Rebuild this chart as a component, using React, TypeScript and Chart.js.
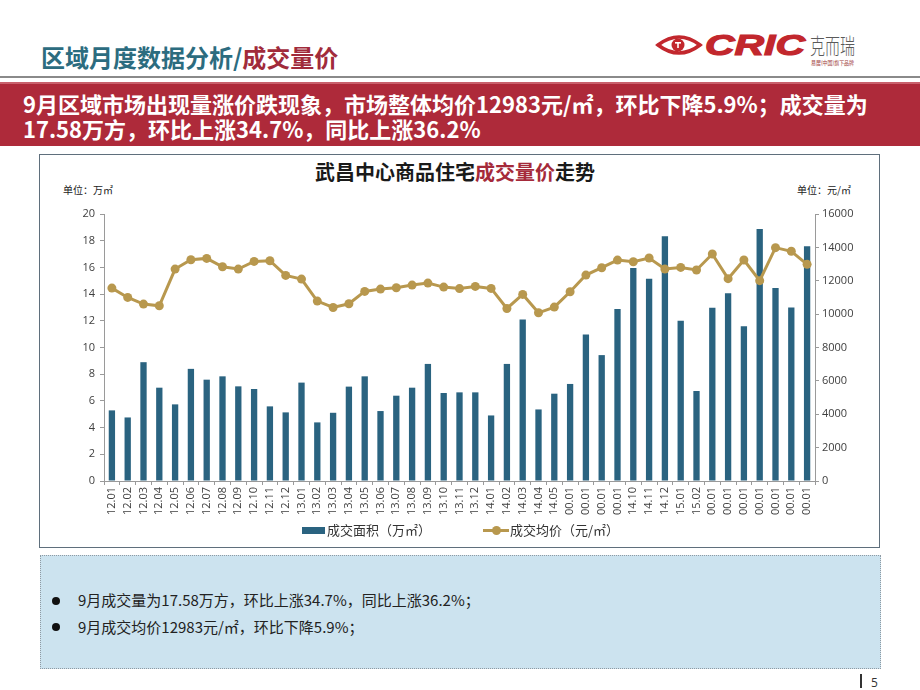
import React, { useEffect, useRef } from 'react';
import { Chart, registerables } from 'chart.js';

Chart.register(...registerables);

// ---------- data ----------
const categories = [
  '12.01', '12.02', '12.03', '12.04', '12.05', '12.06', '12.07', '12.08', '12.09', '12.10', '12.11', '12.12',
  '13.01', '13.02', '13.03', '13.04', '13.05', '13.06', '13.07', '13.08', '13.09', '13.10', '13.11', '13.12',
  '14.01', '14.02', '14.03', '14.04', '14.05', '00.01', '00.01', '00.01', '00.01',
  '14.10', '14.11', '14.12', '15.01', '15.02',
  '00.01', '00.01', '00.01', '00.01', '00.01', '00.01', '00.01',
];

// 成交面积（万㎡）
const areaValues = [
  5.29, 4.76, 8.9, 6.99, 5.74, 8.4, 7.59, 7.84, 7.09, 6.89, 5.59, 5.14,
  7.37, 4.39, 5.11, 7.07, 7.84, 5.24, 6.39, 6.99, 8.77, 6.59, 6.64, 6.64,
  4.91, 8.77, 12.1, 5.36, 6.54, 7.27, 10.98, 9.43, 12.88,
  15.95, 15.15, 18.33, 12.0, 6.74,
  12.98, 14.06, 11.59, 18.88, 14.46, 13.0, 17.58,
];

// 成交均价（元/㎡）
const priceValues = [
  11560, 11000, 10600, 10500, 12700, 13260, 13340, 12840, 12700, 13160, 13200, 12320,
  12100, 10780, 10400, 10620, 11360, 11500, 11580, 11740, 11860, 11620, 11530, 11660,
  11540, 10340, 11180, 10080, 10420, 11340, 12340, 12780, 13240,
  13140, 13360, 12700, 12800, 12645,
  13600, 12125, 13245, 12005, 13983, 13766, 12983,
];

const areaAxisMax = 20;
const areaAxisStep = 2;
const priceAxisMax = 16000;
const priceAxisStep = 2000;

const areaLabel = '成交面积（万㎡）';
const priceLabel = '成交均价（元/㎡）';

// ---------- styles ----------
const BAR_COLOR = '#2A6380';
const LINE_COLOR = '#B8984E';
const AXIS_COLOR = '#9a9a9a';
const TICK_TEXT = '#404040';
const CJK = "'Noto Sans CJK SC', 'Noto Sans', sans-serif";
const TICK_FONT = "'Open Sans', 'DejaVu Sans', sans-serif";

function VolumePriceChart() {
  const ref = useRef<HTMLCanvasElement>(null);
  useEffect(() => {
    const canvas = ref.current;
    if (!canvas) return;
    const tickFont = { family: TICK_FONT, size: 11 };
    const chart = new Chart(canvas, {
      type: 'bar',
      data: {
        labels: categories,
        datasets: [
          {
            type: 'line',
            label: priceLabel,
            data: priceValues,
            yAxisID: 'y1',
            borderColor: LINE_COLOR,
            backgroundColor: LINE_COLOR,
            borderWidth: 3,
            pointRadius: 4.5,
            pointBackgroundColor: LINE_COLOR,
            pointBorderWidth: 0,
            tension: 0,
            order: 0,
          } as any,
          {
            type: 'bar',
            label: areaLabel,
            data: areaValues,
            yAxisID: 'y',
            backgroundColor: BAR_COLOR,
            barPercentage: 0.4,
            categoryPercentage: 1,
            order: 1,
          } as any,
        ],
      },
      options: {
        responsive: false,
        animation: false,
        devicePixelRatio: 1,
        layout: { padding: { top: 58, left: 0, right: 0, bottom: 0 } },
        plugins: {
          legend: { display: false },
          title: { display: false },
          tooltip: { enabled: false },
        },
        scales: {
          x: {
            type: 'category',
            offset: true,
            grid: {
              display: true,
              drawOnChartArea: false,
              offset: true,
              tickLength: 4,
              color: AXIS_COLOR,
            },
            border: { display: true, color: AXIS_COLOR },
            ticks: {
              autoSkip: false,
              minRotation: 90,
              maxRotation: 90,
              padding: 2,
              color: TICK_TEXT,
              font: tickFont,
            },
            afterFit: (s: any) => {
              s.height = 45;
            },
          },
          y: {
            position: 'left',
            min: 0,
            max: areaAxisMax,
            grid: { display: true, drawOnChartArea: false, tickLength: 4, color: AXIS_COLOR },
            border: { display: true, color: AXIS_COLOR },
            ticks: {
              stepSize: areaAxisStep,
              padding: 5,
              color: TICK_TEXT,
              font: tickFont,
              callback: (v: any) => String(v),
            },
            afterFit: (s: any) => {
              s.width = 63;
            },
          },
          y1: {
            position: 'right',
            min: 0,
            max: priceAxisMax,
            grid: { display: true, drawOnChartArea: false, tickLength: 4, color: AXIS_COLOR },
            border: { display: true, color: AXIS_COLOR },
            ticks: {
              stepSize: priceAxisStep,
              padding: 3,
              color: TICK_TEXT,
              font: tickFont,
              callback: (v: any) => String(v),
            },
            afterFit: (s: any) => {
              s.width = 64;
            },
          },
        },
      } as any,
    });
    return () => chart.destroy();
  }, []);
  return (
    <canvas
      ref={ref}
      width={838}
      height={370}
      style={{ position: 'absolute', left: 41, top: 156, width: 838, height: 370 }}
    />
  );
}

function Logo() {
  return (
    <svg
      width={210}
      height={44}
      style={{ position: 'absolute', left: 654, top: 28 }}
      viewBox="0 0 210 44"
    >
      <path d="M4 17 Q25 1 46 17 Q25 33 4 17 Z" fill="none" stroke="#C2272D" strokeWidth={3.5} />
      <circle cx={24} cy={17} r={6.5} fill="#C2272D" />
      <rect x={21} y={14} width={6} height={1.6} fill="#fff" />
      <rect x={23.2} y={14} width={1.6} height={6} fill="#fff" />
      <text
        x={51}
        y={27}
        fontFamily="'Liberation Sans', Arial, sans-serif"
        fontWeight="bold"
        fontStyle="italic"
        fontSize={30}
        fill="#C2272D"
        stroke="#C2272D"
        strokeWidth={1.2}
        textLength={100}
        lengthAdjust="spacingAndGlyphs"
      >
        CRIC
      </text>
      <text
        x={156}
        y={26}
        fontFamily={CJK}
        fontWeight={300}
        fontSize={22}
        fill="#5a5a5a"
        textLength={45}
        lengthAdjust="spacingAndGlyphs"
      >
        克而瑞
      </text>
      <text
        x={157}
        y={37}
        fontFamily={CJK}
        fontSize={6}
        fill="#a04040"
        textLength={43}
        lengthAdjust="spacingAndGlyphs"
      >
        易居(中国)旗下品牌
      </text>
    </svg>
  );
}

export default function App() {
  const abs = (s: React.CSSProperties): React.CSSProperties => ({ position: 'absolute', whiteSpace: 'nowrap', ...s });
  return (
    <div
      style={{
        position: 'absolute',
        left: 0,
        top: 0,
        width: 920,
        height: 690,
        background: '#ffffff',
        overflow: 'hidden',
        fontFamily: CJK,
      }}
    >
      {/* header title */}
      <div style={abs({ left: 41, top: 45, fontSize: 24, lineHeight: '24px', fontWeight: 700 })}>
        <span style={{ color: '#2C6C7F' }}>区域月度数据分析/</span>
        <span style={{ color: '#A12B3B' }}>成交量价</span>
      </div>
      <Logo />
      <div style={abs({ left: 0, top: 76, width: 920, height: 2, background: '#8a8a8a' })} />

      {/* red banner */}
      <div style={abs({ left: 0, top: 82, width: 920, height: 64, background: '#AE2A3A' })} />
      <div style={abs({ left: 0, top: 82, width: 920, height: 2, background: '#c9606c' })} />
      <div style={abs({ left: 23, top: 92, fontSize: 22, lineHeight: '22px', fontWeight: 700, color: '#fff' })}>
        9月区域市场出现量涨价跌现象，市场整体均价12983元/㎡，环比下降5.9%；成交量为
      </div>
      <div style={abs({ left: 23, top: 116.5, fontSize: 22, lineHeight: '22px', fontWeight: 700, color: '#fff' })}>
        17.58万方，环比上涨34.7%，同比上涨36.2%
      </div>

      {/* chart box */}
      <div
        style={abs({
          left: 39,
          top: 154,
          width: 841,
          height: 394,
          boxSizing: 'border-box',
          border: '1px solid #5f6f7c',
          background: '#ffffff',
        })}
      />
      <div style={abs({ left: 0, top: 161.5, width: 910, textAlign: 'center', fontSize: 20, lineHeight: '20px', fontWeight: 700, color: '#1a1a1a' })}>
        武昌中心商品住宅<span style={{ color: '#A52A3A' }}>成交量价</span>走势
      </div>
      <div style={abs({ left: 63, top: 185, fontSize: 10, lineHeight: '10px', color: '#222' })}>单位：万㎡</div>
      <div style={abs({ left: 751, top: 185, width: 100, textAlign: 'right', fontSize: 10, lineHeight: '10px', color: '#222' })}>
        单位：元/㎡
      </div>
      <VolumePriceChart />

      {/* legend */}
      <div style={abs({ left: 302, top: 527, width: 23, height: 7, background: BAR_COLOR })} />
      <div style={abs({ left: 327, top: 523, fontSize: 13, lineHeight: '13px', color: '#333' })}>{areaLabel}</div>
      <div style={abs({ left: 483, top: 529, width: 26, height: 3, background: LINE_COLOR })} />
      <div style={abs({ left: 492, top: 526, width: 9, height: 9, borderRadius: '50%', background: LINE_COLOR })} />
      <div style={abs({ left: 510, top: 523, fontSize: 13, lineHeight: '13px', color: '#333' })}>{priceLabel}</div>

      {/* info box */}
      <div
        style={abs({
          left: 40,
          top: 555,
          width: 841,
          height: 114,
          boxSizing: 'border-box',
          border: '1px dotted #8f9aa3',
          background: '#CCE3EF',
        })}
      />
      <div style={abs({ left: 52, top: 596.5, width: 8, height: 8, borderRadius: '50%', background: '#111' })} />
      <div style={abs({ left: 78, top: 592, fontSize: 15, lineHeight: '15px', color: '#222' })}>
        9月成交量为17.58万方，环比上涨34.7%，同比上涨36.2%；
      </div>
      <div style={abs({ left: 52, top: 623, width: 8, height: 8, borderRadius: '50%', background: '#111' })} />
      <div style={abs({ left: 78, top: 618.5, fontSize: 15, lineHeight: '15px', color: '#222' })}>
        9月成交均价12983元/㎡，环比下降5.9%；
      </div>

      {/* page number */}
      <div style={abs({ left: 860, top: 674, width: 1.5, height: 14, background: '#333' })} />
      <div style={abs({ left: 871, top: 676, fontSize: 12, lineHeight: '14px', color: '#333', fontFamily: TICK_FONT })}>5</div>
    </div>
  );
}
